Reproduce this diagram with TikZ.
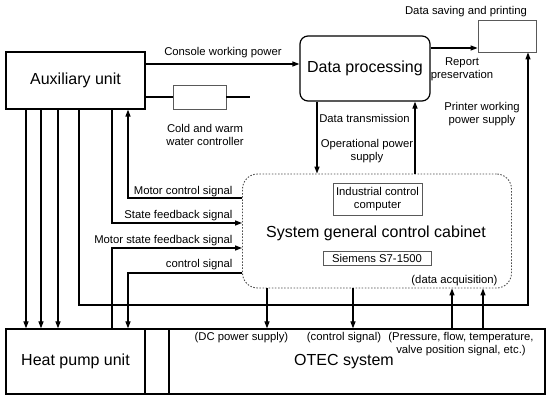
\documentclass[tikz,border=0pt]{standalone}
\usepackage{fontspec}
\setmainfont{Liberation Sans}
\usetikzlibrary{arrows.meta}
\newcommand{\piccolo}{\fontsize{11.3}{13}\selectfont}
\newcommand{\grande}{\fontsize{16}{19}\selectfont}
\tikzset{
  blocco/.style={draw, line width=1.2pt, inner sep=0pt, font=\grande},
  scatola/.style={draw=black!65, line width=.8pt, inner sep=1pt, align=center},
  armadio/.style={draw=black!70, dash pattern=on 1.5pt off 1.6pt, line width=.9pt, rounded corners=15pt, inner sep=0pt},
  freccia/.style={line width=1.2pt, -{Triangle[length=7pt,width=5pt]}},
  filo/.style={line width=1.2pt},
  testo/.style={align=center, inner sep=0pt}
}

\begin{document}
\begin{tikzpicture}[x=1pt,y=-1pt,every node/.style={font=\piccolo}]
  \useasboundingbox (0,0) rectangle (550,401);

  % --- blocchi principali ---------------------------------------------------
  \node[blocco, minimum width=139pt, minimum height=57pt] (aux) at (75.5,80.5) {Auxiliary unit};
  \node[blocco, rounded corners=8pt, minimum width=130pt, minimum height=65pt] (dp) at (365,68.5) {Data processing};
  \node[scatola, minimum width=58pt, minimum height=32pt] (prn) at (507,36) {};
  \node[scatola, minimum width=53pt, minimum height=24pt] (cww) at (199.5,97) {};
  \coordinate (cwfine) at (250,97);

  % armadio di controllo con i due apparati interni
  \node[armadio, minimum width=269pt, minimum height=114pt] (cab) at (377,231) {};
  \node[scatola, minimum width=89pt, minimum height=32pt] (ipc) at (377.5,199) {Industrial control\\computer};
  \node[font=\grande] (lcab) at (376,233) {System general control cabinet};
  \node[scatola, minimum width=108pt, minimum height=14pt] (plc) at (377,258.5) {Siemens S7-1500};
  \node (lacq) at (454.5,281) {(data acquisition)};

  % fila in basso
  \node[blocco, minimum width=139pt, minimum height=65pt] (hp) at (75.5,361.5) {Heat pump unit};
  \node[blocco, minimum width=24pt, minimum height=65pt] (sep) at (157,361.5) {};
  \node[blocco, minimum width=376pt, minimum height=65pt] (otec) at (357,361.5) {};
  \node[font=\grande] (lotec) at (344,362) {OTEC system};

  % --- collegamenti in alto -------------------------------------------------
  \draw[freccia] ([yshift=16.5pt]aux.east) coordinate (a1) -- (a1 -| dp.west);
  \draw[filo] ([yshift=-16.5pt]aux.east) -- (cww.west);
  \draw[filo] (cww.east) -- (cwfine);
  \draw[freccia] ([yshift=20.5pt]dp.east) coordinate (a2) -- (a2 -| prn.west);
  \draw[freccia] ([xshift=-48pt]dp.south) coordinate (a3) -- (a3 |- cab.north);
  \coordinate (a4) at ([xshift=50pt]dp.south);
  \draw[freccia] (a4 |- cab.north) -- (a4);

  % --- dall'unita ausiliaria verso il basso ---------------------------------
  \foreach \dx in {-49.5,-34.5,-17.5}
    \draw[freccia] ([xshift=\dx pt]aux.south) -- ([xshift=\dx pt]hp.north);
  \coordinate (pw) at (528,305);
  \draw[freccia] ([xshift=3.5pt]aux.south) |- (pw) -- (pw |- prn.south);

  % segnali tra armadio e unita
  \draw[freccia] ([yshift=33pt]cab.west) -| ([xshift=52.5pt]aux.south);
  \draw[freccia] ([xshift=36.5pt]aux.south) |- ([yshift=8pt]cab.west);
  \draw[freccia] ([xshift=36.5pt]hp.north) |- ([yshift=-17pt]cab.west);
  \draw[freccia] ([yshift=-42pt]cab.west) -| ([xshift=52.5pt]hp.north);

  % --- armadio <-> sistema OTEC ---------------------------------------------
  \foreach \a/\b in {-110/-90,-24/-4}
    \draw[freccia] ([xshift=\a pt]cab.south) -- ([xshift=\b pt]otec.north);
  \foreach \a/\b in {75/95,106/126}
    \draw[freccia] ([xshift=\b pt]otec.north) -- ([xshift=\a pt]cab.south);

  % --- etichette ------------------------------------------------------------
  \node (lcons) at (223,53) {Console working power};
  \node[testo] (lcww) at (205,134.5) {Cold and warm\\water controller};
  \node (lprn) at (466,12) {Data saving and printing};
  \node[testo] (lrep) at (462,69.5) {Report\\preservation};
  \node[testo] (lpw) at (482,114) {Printer working\\power supply};
  \node (ltx) at (364.5,118) {Data transmission};
  \node[testo] (lop) at (367,151.5) {Operational power\\supply};
  \node[anchor=east] (lmc) at (236,192) {Motor control signal};
  \node[anchor=east] (lsf) at (236,216) {State feedback signal};
  \node[anchor=east] (lmsf) at (236,241) {Motor state feedback signal};
  \node[anchor=east] (lcs) at (236,265) {control signal};
  \node (ldc) at (241.5,338) {(DC power supply)};
  \node (lcsig) at (344,338) {(control signal)};
  \node[testo] (lpres) at (461,344.5) {(Pressure, flow, temperature,\\valve position signal, etc.)};

\end{tikzpicture}
\end{document}
